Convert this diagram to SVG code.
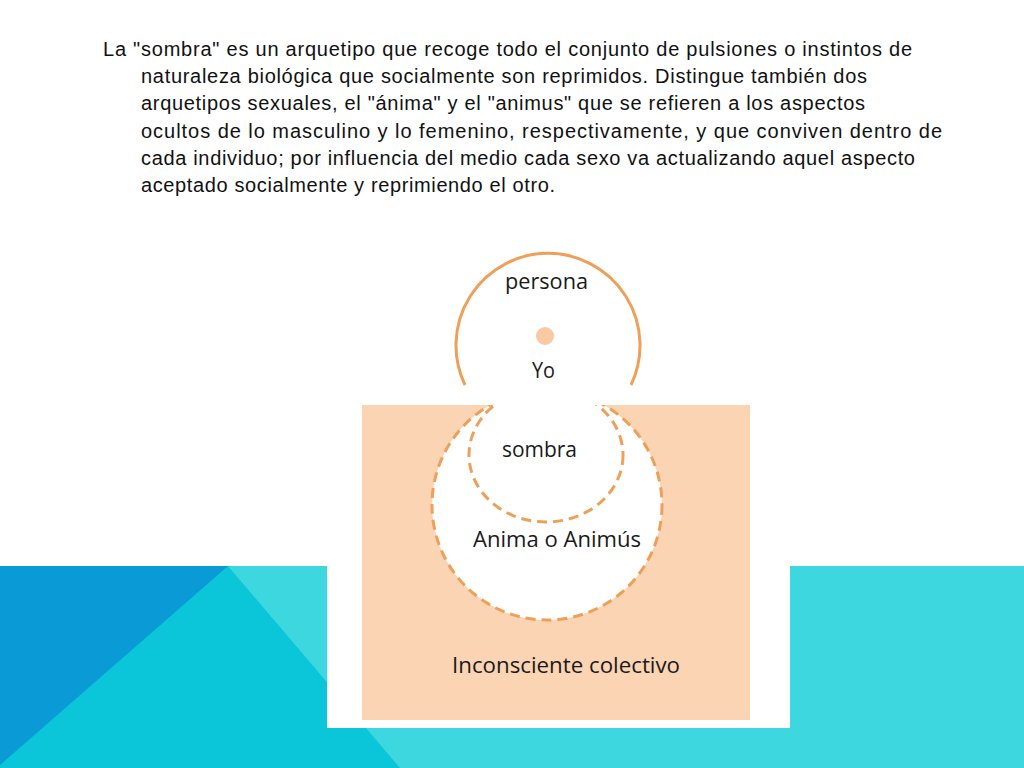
<svg xmlns="http://www.w3.org/2000/svg" width="1024" height="768" viewBox="0 0 1024 768">
  <defs>
    <style>
      .body { font-family: "Liberation Sans", Arial, sans-serif; font-size: 20px; fill: #111; }
      .lbl { font-family: "Open Sans", "Noto Sans", sans-serif; font-size: 22px; fill: #1a1a1a; }
      .solid { fill: none; stroke: #ee9f58; stroke-width: 3; }
      .dash { stroke: #ee9f58; stroke-width: 3; stroke-dasharray: 10 6; }
    </style>
    <clipPath id="belowTop">
      <rect x="362" y="405" width="388" height="315"/>
    </clipPath>
  </defs>

  <rect width="1024" height="768" fill="#ffffff"/>

  <!-- bottom decorative band -->
  <g id="band">
    <rect x="0" y="566" width="1024" height="202" fill="#3dd8df"/>
    <polygon points="228,566 400,768 0,768 0,566" fill="#0bc5d9"/>
    <polygon points="0,566 228,566 0,765" fill="#0a9bd6"/>
  </g>

  <!-- text block -->
  <g id="paragraph">
    <text class="body" x="103" y="56" textLength="809" lengthAdjust="spacing">La "sombra" es un arquetipo que recoge todo el conjunto de pulsiones o instintos de</text>
    <text class="body" x="141" y="83" textLength="726" lengthAdjust="spacing">naturaleza biológica que socialmente son reprimidos. Distingue también dos</text>
    <text class="body" x="141" y="110" textLength="724" lengthAdjust="spacing">arquetipos sexuales, el "ánima" y el "animus" que se refieren a los aspectos</text>
    <text class="body" x="141" y="138" textLength="801" lengthAdjust="spacing">ocultos de lo masculino y lo femenino, respectivamente, y que conviven dentro de</text>
    <text class="body" x="141" y="165" textLength="774" lengthAdjust="spacing">cada individuo; por influencia del medio cada sexo va actualizando aquel aspecto</text>
    <text class="body" x="141" y="192" textLength="414" lengthAdjust="spacing">aceptado socialmente y reprimiendo el otro.</text>
  </g>

  <!-- picture card -->
  <g id="card">
    <rect x="327" y="235" width="463" height="493" fill="#ffffff"/>
  </g>

  <g id="inconsciente">
    <rect x="362" y="405" width="388" height="315" fill="#fad4b3"/>
    <text class="lbl" x="566" y="673" text-anchor="middle" textLength="228" lengthAdjust="spacingAndGlyphs">Inconsciente colectivo</text>
  </g>

  <g id="anima">
    <circle cx="547" cy="505" r="115" fill="#ffffff"/>
    <circle cx="547" cy="505" r="115" class="dash" fill="none" clip-path="url(#belowTop)"/>
    <text class="lbl" x="557" y="547" text-anchor="middle" textLength="168" lengthAdjust="spacingAndGlyphs">Anima o Animús</text>
  </g>

  <g id="sombra">
    <ellipse cx="546" cy="455" rx="77" ry="67" class="dash" fill="none" clip-path="url(#belowTop)"/>
    <text class="lbl" x="539.5" y="457" text-anchor="middle" textLength="75" lengthAdjust="spacingAndGlyphs">sombra</text>
  </g>

  <g id="persona">
    <path class="solid" d="M 465 385 A 92 92 0 1 1 631 385"/>
    <text class="lbl" x="546.5" y="289" text-anchor="middle" textLength="83" lengthAdjust="spacingAndGlyphs">persona</text>
  </g>

  <g id="yo">
    <circle cx="545" cy="336" r="9" fill="#f8c9a3"/>
    <text class="lbl" x="543.5" y="378" text-anchor="middle" textLength="23" lengthAdjust="spacingAndGlyphs">Yo</text>
  </g>

  <g id="connectors"></g>
</svg>
